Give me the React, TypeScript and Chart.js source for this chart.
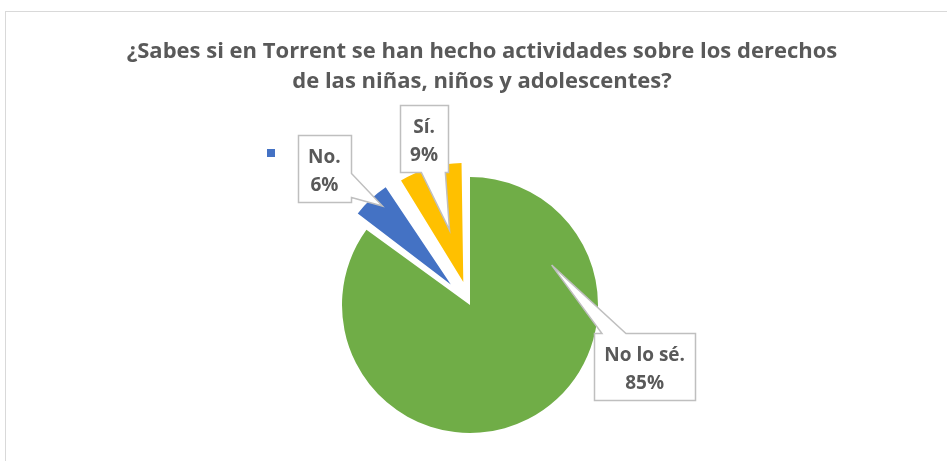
import React, { useEffect, useRef } from 'react';
import { Chart, registerables } from 'chart.js';

Chart.register(...registerables);

// ---- data ----
const categories = ['No lo sé.', 'No.', 'Sí.'];
const percentValues = [85, 6, 9];
const sliceColors = ['#70AD47', '#4472C4', '#FFC000'];
const titleLines = [
  '¿Sabes si en Torrent se han hecho actividades sobre los derechos',
  'de las niñas, niños y adolescentes?',
];

// ---- style ----
const FONT = '"Open Sans", "Noto Sans", sans-serif';
const TEXT_COLOR = '#595959';
const TITLE_SIZE = 22;
const LABEL_SIZE = 19;
const sliceOffsets = [0, 112, 96];
const sliceRadiusScale = [1, 0.915, 0.93];
// callout anchors: fraction along arc, fraction of radius, box centre offset from tip
const labelAnchors = [
  { f: 0.209, r: 0.71, dx: 93, dy: 101.5 },
  { f: 0.6, r: 0.89, dx: -58, dy: -37.5 },
  { f: 0.54, r: 0.45, dx: -25.5, dy: -91.5 },
];

function arcInfo(arc: any) {
  const off = (arc.options.offset || 0) / 4;
  const mid = (arc.startAngle + arc.endAngle) / 2;
  const circ = arc.endAngle - arc.startAngle;
  const fix = 1 - Math.sin(Math.min(Math.PI, circ));
  return {
    off,
    fix,
    vx: arc.x + Math.cos(mid) * off,
    vy: arc.y + Math.sin(mid) * off,
  };
}

const radiusPlugin = {
  id: 'sliceRadius',
  beforeDatasetsDraw(chart: any) {
    const meta = chart.getDatasetMeta(0);
    const base = meta.controller.outerRadius;
    meta.data.forEach((arc: any, i: number) => {
      const { off, fix } = arcInfo(arc);
      arc.outerRadius = base * sliceRadiusScale[i] - off * fix;
    });
  },
};

function drawCallout(ctx: CanvasRenderingContext2D, cx: number, cy: number, w: number, h: number, tx: number, ty: number) {
  const x0 = Math.round(cx - w / 2) + 0.5;
  const y0 = Math.round(cy - h / 2) + 0.5;
  const x1 = x0 + Math.round(w);
  const y1 = y0 + Math.round(h);
  const ddx = tx - cx;
  const ddy = ty - cy;
  const tX = ddx !== 0 ? w / 2 / Math.abs(ddx) : Infinity;
  const tY = ddy !== 0 ? h / 2 / Math.abs(ddy) : Infinity;
  const hw = 12;
  let edge: string;
  let c: number;
  if (tX < tY) {
    edge = ddx > 0 ? 'right' : 'left';
    c = cy + ddy * tX;
    c = Math.min(Math.max(c, y0 + hw + 3), y1 - hw - 3);
  } else {
    edge = ddy > 0 ? 'bottom' : 'top';
    c = cx + ddx * tY;
    c = Math.min(Math.max(c, x0 + hw + 3), x1 - hw - 3);
  }
  ctx.beginPath();
  ctx.moveTo(x0, y0);
  if (edge === 'top') { ctx.lineTo(c - hw, y0); ctx.lineTo(tx, ty); ctx.lineTo(c + hw, y0); }
  ctx.lineTo(x1, y0);
  if (edge === 'right') { ctx.lineTo(x1, c - hw); ctx.lineTo(tx, ty); ctx.lineTo(x1, c + hw); }
  ctx.lineTo(x1, y1);
  if (edge === 'bottom') { ctx.lineTo(c + hw, y1); ctx.lineTo(tx, ty); ctx.lineTo(c - hw, y1); }
  ctx.lineTo(x0, y1);
  if (edge === 'left') { ctx.lineTo(x0, c + hw); ctx.lineTo(tx, ty); ctx.lineTo(x0, c - hw); }
  ctx.closePath();
  ctx.fillStyle = '#ffffff';
  ctx.fill();
  ctx.lineWidth = 1.5;
  ctx.strokeStyle = '#bfbfbf';
  ctx.lineJoin = 'miter';
  ctx.stroke();
  return { x0, y0 };
}

const decorPlugin = {
  id: 'decor',
  afterDatasetsDraw(chart: any) {
    const ctx: CanvasRenderingContext2D = chart.ctx;
    const meta = chart.getDatasetMeta(0);
    const base = meta.controller.outerRadius;
    ctx.save();
    ctx.font = `bold ${LABEL_SIZE}px ${FONT}`;
    meta.data.forEach((arc: any, i: number) => {
      const { vx, vy } = arcInfo(arc);
      const anc = labelAnchors[i];
      const R = base * sliceRadiusScale[i];
      const a = arc.startAngle + anc.f * (arc.endAngle - arc.startAngle);
      const tx = vx + Math.cos(a) * R * anc.r;
      const ty = vy + Math.sin(a) * R * anc.r;
      const lines = [categories[i], `${percentValues[i]}%`];
      const w = Math.max(...lines.map((l) => ctx.measureText(l).width)) + 20;
      const h = 67;
      const cx = tx + anc.dx;
      const cy = ty + anc.dy;
      const { y0 } = drawCallout(ctx, cx, cy, w, h, tx, ty);
      ctx.fillStyle = TEXT_COLOR;
      ctx.textAlign = 'center';
      ctx.textBaseline = 'alphabetic';
      ctx.fillText(lines[0], cx, y0 + 27);
      ctx.fillText(lines[1], cx, y0 + 55);
    });
    // legend marker
    ctx.fillStyle = sliceColors[1];
    ctx.fillRect(267, 149, 8, 8);
    // title
    ctx.font = `bold ${TITLE_SIZE}px ${FONT}`;
    ctx.fillStyle = TEXT_COLOR;
    ctx.textAlign = 'center';
    ctx.textBaseline = 'alphabetic';
    ctx.fillText(titleLines[0], 482, 58);
    ctx.fillText(titleLines[1], 482, 88);
    ctx.restore();
  },
};

export default function App() {
  const ref = useRef<HTMLCanvasElement>(null);
  useEffect(() => {
    const chart = new Chart(ref.current as HTMLCanvasElement, {
      type: 'pie',
      data: {
        labels: categories,
        datasets: [
          {
            data: percentValues,
            backgroundColor: sliceColors,
            borderWidth: 0,
            offset: sliceOffsets,
          },
        ],
      },
      options: {
        responsive: false,
        animation: false,
        devicePixelRatio: 1,
        radius: 128,
        events: [],
        layout: { padding: { top: 160, bottom: 11, left: 270, right: 277 } },
        plugins: {
          legend: { display: false },
          tooltip: { enabled: false },
          title: { display: false },
        },
      } as any,
      plugins: [radiusPlugin, decorPlugin],
    });
    return () => chart.destroy();
  }, []);
  return (
    <div style={{ position: 'fixed', left: 0, top: 0, width: 947, height: 461, overflow: 'hidden', background: '#fff' }}>
      <div style={{ position: 'absolute', left: 5, top: 11, width: 1200, height: 800, border: '1px solid #d9d9d9' }} />
      <canvas ref={ref} width={947} height={461} style={{ position: 'absolute', left: 0, top: 0, width: 947, height: 461 }} />
    </div>
  );
}
